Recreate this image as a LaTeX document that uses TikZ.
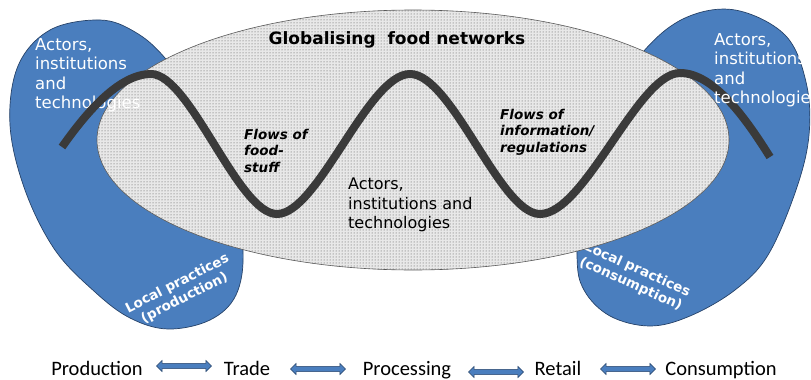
\documentclass[tikz,border=0pt]{standalone}
\usepackage{fontspec}
\setmainfont{DejaVu Sans}
\newfontfamily\chainfont{Carlito}
\usetikzlibrary{patterns,shapes.arrows}
\definecolor{blobblue}{RGB}{74,126,190}
\definecolor{blobedge}{RGB}{38,66,104}
\definecolor{wavegray}{RGB}{58,58,58}
\definecolor{netfill}{RGB}{232,232,232}

\begin{document}
\begin{tikzpicture}[x=1pt,y=-1pt,
  blob/.style={fill=blobblue,draw=blobedge,line width=0.7pt},
  whitetext/.style={text=white,align=left,inner sep=0pt,anchor=north west,
    font=\fontsize{16.5}{19.5}\selectfont},
  blacktext/.style={text=black,align=left,inner sep=0pt,anchor=north west,
    font=\fontsize{16}{19.5}\selectfont},
  flowtext/.style={text=black,align=left,inner sep=0pt,anchor=north west,
    font=\fontsize{13.5}{16.5}\selectfont\bfseries\itshape},
  localtext/.style={text=white,align=center,inner sep=0pt,
    font=\fontsize{13.5}{16}\selectfont\bfseries},
  chainstep/.style={inner sep=0pt,anchor=base,font=\fontsize{20.5}{24}\selectfont\chainfont},
  linkarrow/.style={shape=double arrow,fill=blobblue,draw=blobedge,line width=0.5pt,
    minimum height=55pt,inner xsep=0pt,inner ysep=2.3pt,double arrow head extend=3pt},
  wave/.style={draw=wavegray,line width=8pt}]
\useasboundingbox (0,0) rectangle (811,380);

% local blobs
\path[blob] plot[smooth cycle,tension=0.6] coordinates {
  (100,20) (135,32) (165,58) (205,112) (232,182) (243,250) (236,295) (210,320)
  (168,329) (130,318) (95,292) (55,250) (25,190) (10,125) (18,66) (50,30)};
\path[blob] plot[smooth cycle,tension=0.6] coordinates {
  (685,18) (735,10) (785,35) (806,82) (809,135) (796,190) (768,255) (735,290)
  (690,316) (650,326) (610,316) (584,290) (577,255) (582,180) (605,110) (643,52)};

% consumption label sits partly under the network ellipse
\node[localtext,rotate=-24] (lpc) at (634,277) {Local practices\\(consumption)};

% globalising network
\path[fill=netfill] (413,140) ellipse [x radius=316, y radius=130];
\path[pattern=dots,pattern color=black!70] (413,140) ellipse [x radius=316, y radius=130];
\draw[black!65,line width=0.6pt] (413,140) ellipse [x radius=316, y radius=130];
\node[anchor=base,inner sep=0pt,font=\fontsize{17}{20}\selectfont\bfseries] (title) at (397,44)
  {Globalising\ \ food networks};

\node[localtext,rotate=27] (lpp) at (181,291) {Local practices\\(production)};
\node[whitetext] (leftact) at (35,38) {Actors,\\institutions\\and\\technologies};

% flows
\coordinate (w0) at (62,147);
\coordinate (p1) at (151,74);
\coordinate (t1) at (277,214);
\coordinate (p2) at (410,74);
\coordinate (t2) at (540,214);
\coordinate (p3) at (680,73);
\coordinate (w1) at (770,157);
\draw[wave] (w0) .. controls (88,110) and (120,74) .. (p1)
  .. controls (190,74) and (238,214) .. (t1)
  .. controls (318,214) and (368,74) .. (p2)
  .. controls (452,74) and (500,214) .. (t2)
  .. controls (585,214) and (638,73) .. (p3)
  .. controls (715,73) and (748,122) .. (w1);

\node[whitetext] (rightact) at (714,33) {Actors,\\institutions\\and\\technologies};
\node[flowtext] (food) at (244,129) {Flows of\\food-\\stuff};
\node[flowtext] (info) at (500,109) {Flows of\\information/\\regulations};
\node[blacktext] (midact) at (348,178) {Actors,\\institutions and\\technologies};

% value chain
\node[chainstep] (prod) at (97,375) {Production};
\node[chainstep] (trade) at (247,375) {Trade};
\node[chainstep] (proc) at (407,375) {Processing};
\node[chainstep] (retail) at (558,375) {Retail};
\node[chainstep] (cons) at (721,375) {Consumption};
\node[linkarrow] (a1) at (184,366) {};
\node[linkarrow] (a2) at (318,369) {};
\node[linkarrow] (a3) at (496,372) {};
\node[linkarrow] (a4) at (628,369) {};
\end{tikzpicture}
\end{document}
